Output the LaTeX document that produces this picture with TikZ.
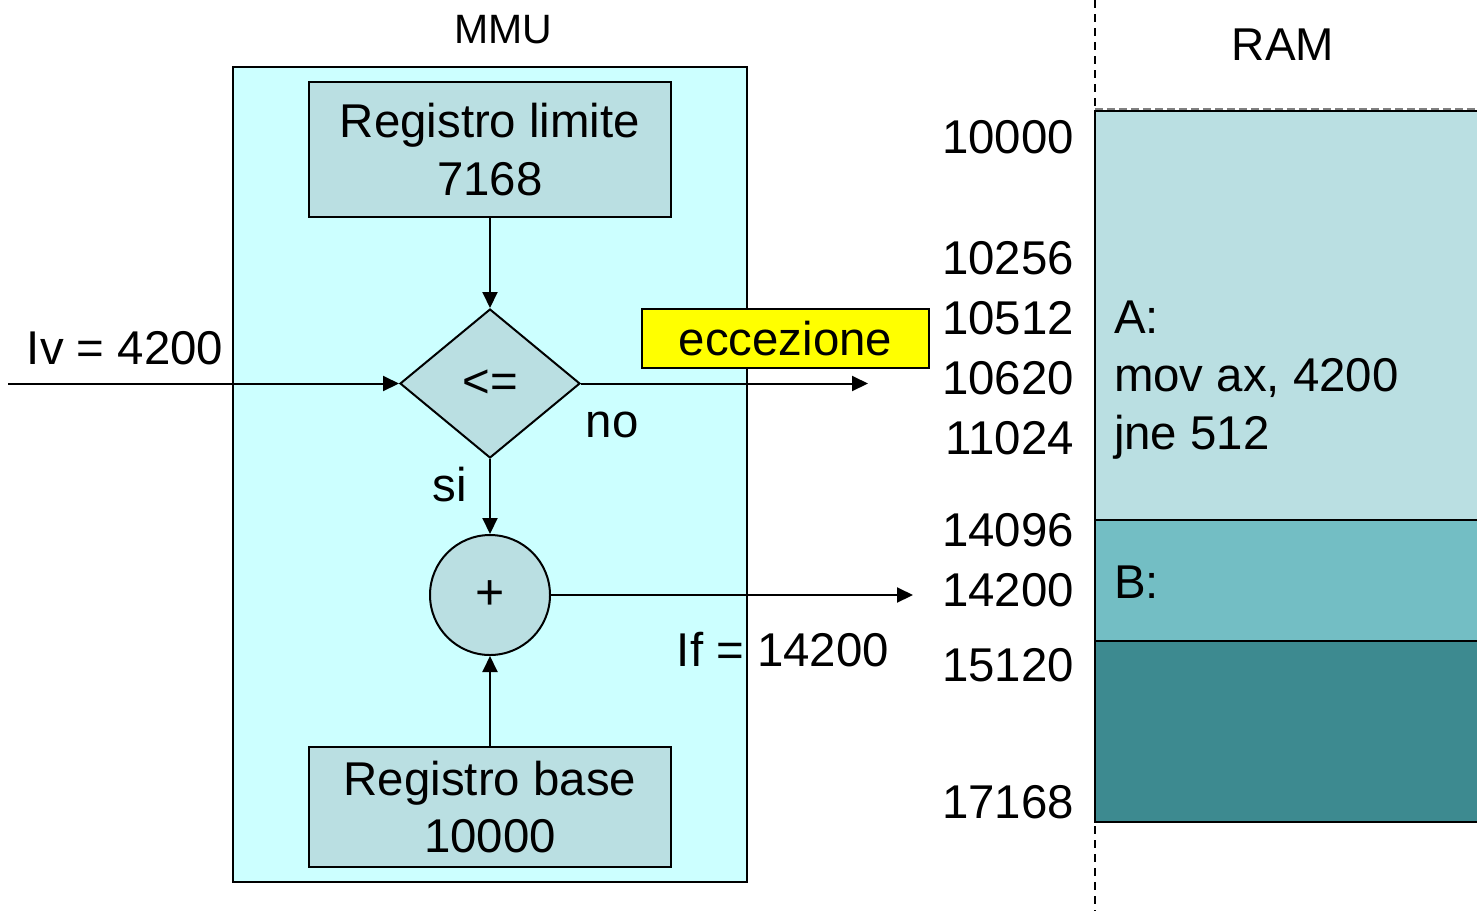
\documentclass[tikz,border=0pt]{standalone}
\usepackage{fontspec}
\setmainfont{Liberation Sans}
\usepackage{xcolor}
\usepackage{tikz}
\usetikzlibrary{shapes.geometric,arrows.meta}

\definecolor{mmucyan}{HTML}{CCFFFF}
\definecolor{regteal}{HTML}{BADFE2}
\definecolor{segB}{HTML}{73BEC4}
\definecolor{segC}{HTML}{3D8A90}
\definecolor{exyellow}{HTML}{FFFF00}
\newcommand\txtbig{\fontsize{23.7}{28.9}\selectfont}
\newcommand\txtmid{\fontsize{20.5}{25}\selectfont}

\begin{document}
\begin{tikzpicture}[x=0.5pt, y=-0.5pt, line width=1pt,
  >={Triangle[length=8pt,width=7.5pt]},
  reg/.style={rectangle, draw, fill=regteal, minimum width=181pt, inner sep=0pt, align=center, font=\txtbig},
  test/.style={diamond, draw, fill=regteal, minimum width=90pt, minimum height=74.5pt, inner sep=0pt, font=\txtbig},
  sum/.style={circle, draw, fill=regteal, minimum size=60pt, inner sep=0pt, font=\fontsize{25}{30}\selectfont},
  lbl/.style={inner sep=0pt, font=\txtbig},
  addr/.style={anchor=east, inner sep=0pt, font=\txtbig}]
  \useasboundingbox (0,0) rectangle (1477,911);
  % RAM
  \fill[regteal] (1095,111) rectangle (1480,520);
  \fill[segB] (1095,520) rectangle (1480,641);
  \fill[segC] (1095,641) rectangle (1480,822);
  \draw (1480,111) -- (1095,111) -- (1095,822) -- (1480,822);
  \draw (1095,520) -- (1480,520) (1095,641) -- (1480,641);
  \draw[gray, dash pattern=on 4pt off 2pt, line width=0.8pt] (1095,109) -- (1480,109);
  \draw[dash pattern=on 4pt off 3pt, line width=0.8pt] (1095,0) -- (1095,109);
  \draw[dash pattern=on 4pt off 3pt, line width=0.8pt] (1095,826) -- (1095,911);
  \node[font=\fontsize{23}{28}\selectfont] (ram) at (1283,45) {RAM};
  \node[lbl, anchor=west, align=left] (progA) at (1113,380) {A:\\mov ax, 4200\\jne 512};
  \node[lbl, anchor=west] (progB) at (1113,582) {B:};
  \foreach \a/\y in {10000/137, 10256/258, 10512/318, 10620/378, 11024/438,
                     14096/530, 14200/590, 15120/665, 17168/802}
    \node[addr] (a\a) at (1075,\y) {\a};
  % MMU
  \node[draw, fill=mmucyan, minimum width=257pt, minimum height=407.5pt] (mmu) at (490,474.5) {};
  \node[font=\txtmid] (mmulbl) at (503,30) {MMU};
  \node[reg, minimum height=67.5pt] (lim) at (490,149.5) {Registro limite\\7168};
  \node[reg, minimum height=60pt] (base) at (490,807) {Registro base\\10000};
  \node[test] (cmp) at (490,383.5) {\raisebox{-1.5pt}{<=}};
  \node[sum] (add) at (490,595) {\raisebox{-1.5pt}{+}};
  \coordinate (in) at (8,383.5);
  \coordinate (exc) at (868,383.5);
  \coordinate (phys) at (913,595);
  \draw[->] (in) -- (cmp);
  \draw[->] (lim) -- (cmp);
  \draw[->] (cmp) -- (exc);
  \draw[->] (cmp) -- (add);
  \draw[->] (base) -- (add);
  \draw[->] (add) -- (phys);
  \node[lbl] (iv) at (125,348) {Iv = 4200};
  \node[lbl] (no) at (612,425) {no};
  \node[lbl] (si) at (450,485) {si};
  \node[lbl] (if) at (783,650) {If = 14200};
  \node[draw, fill=exyellow, minimum width=143.5pt, minimum height=29.5pt, inner sep=0pt, font=\txtbig] (ecc) at (785.5,338.5) {eccezione};
\end{tikzpicture}
\end{document}
